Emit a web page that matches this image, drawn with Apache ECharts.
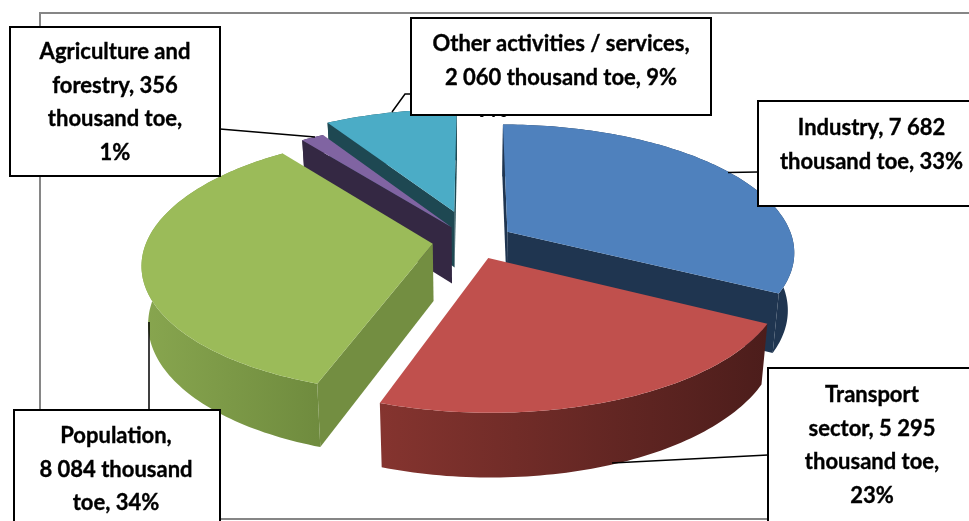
<!DOCTYPE html>
<html>
<head>
<meta charset="utf-8">
<style>html,body{margin:0;padding:0;background:#fff;overflow:hidden}#chart{width:969px;height:521px}</style>
<script src="https://cdn.jsdelivr.net/npm/echarts@6/dist/echarts.min.js"></script>
</head>
<body>
<div id="chart"></div>
<script>
// Final energy consumption by sector, thousand toe
const sectors = ['Industry', 'Transport sector', 'Population', 'Agriculture and forestry', 'Other activities / services'];
const values = [7682, 5295, 8084, 356, 2060];
const explode = [0.142, 0.142, 0.142, 0.135, 0.25];
const topColors = ['#4F81BD', '#C0504D', '#9BBB59', '#8064A2', '#4BACC6'];
const cutColors = ['#1F3550', '#4E1E1C', '#738E41', '#342843', '#1E4852'];
const wallStops = [
  ['#1F3550', '#1F3550'],
  ['#85342F', '#4C1D1B'],
  ['#88A64F', '#6F8B3E'],
  ['#342843', '#342843'],
  ['#1E4852', '#1E4852']
];
// Painter's order, back to front
const drawOrder = [4, 3, 0, 2, 1];

const calloutLines = [
  ['Industry, 7 682', 'thousand toe, 33%'],
  ['Transport', 'sector, 5 295', 'thousand toe,', '23%'],
  ['Population,', '8 084 thousand', 'toe, 34%'],
  ['Agriculture and', 'forestry, 356', 'thousand toe,', '1%'],
  ['Other activities / services,', '2 060 thousand toe, 9%']
];
// x, y, width, height of each callout box, then its text centre and first line centre
const calloutBoxes = [
  [758, 101, 240, 105, 871.5, 128],
  [768, 368, 240, 180, 872, 395],
  [14, 410, 206, 140, 116, 436],
  [10, 27, 210, 149, 115, 52],
  [411, 18, 300, 97, 561, 44]
];
const leaders = [
  [[728, 172.5], [758, 172]],
  [[612, 463], [768, 455]],
  [[149, 322], [149, 410]],
  [[315, 137], [220, 129]],
  [[392, 112], [405, 94], [411, 94]]
];
const lineStep = 33.6;
// Percentage label left behind the services callout, only its lower edge shows
const hiddenLabel = '9%';

// Perspective projection of the pie plane
const centre = [473, 241];
const radiusX = 286;
const radiusY = 126;
const perspective = 0.15;
const depth = 57;
const total = values.reduce((a, b) => a + b, 0);

function projectTop(X, Y) {
  const s = 1 / (1 - perspective * Y);
  return [centre[0] + radiusX * X * s, centre[1] + radiusY * Y * s];
}
function dropToBase(p) {
  return [centre[0] + (p[0] - centre[0]) * 0.98, centre[1] + (p[1] - centre[1]) * 1.045 + depth];
}
function cross(o, a, b) {
  return (a[0] - o[0]) * (b[1] - o[1]) - (a[1] - o[1]) * (b[0] - o[0]);
}

function sliceAngles(i) {
  let sum = 0;
  for (let k = 0; k < i; k++) sum += values[k];
  return [sum / total * 2 * Math.PI, (sum + values[i]) / total * 2 * Math.PI];
}

function renderSlice(params) {
  const i = drawOrder[params.dataIndex];
  const [a0, a1] = sliceAngles(i);
  const mid = (a0 + a1) / 2;
  const ox = explode[i] * Math.sin(mid);
  const oy = -explode[i] * Math.cos(mid);
  const apex = projectTop(ox, oy);
  const steps = Math.max(4, Math.ceil((a1 - a0) / 0.02));
  const rim = [];
  for (let n = 0; n <= steps; n++) {
    const a = a0 + (a1 - a0) * n / steps;
    rim.push(projectTop(ox + Math.sin(a), oy - Math.cos(a)));
  }
  const rimBase = rim.map(dropToBase);
  const apexBase = dropToBase(apex);
  const midRim = rim[Math.floor(steps / 2)];
  const children = [];

  children.push({
    type: 'polygon',
    shape: { points: rim.concat(rimBase.slice().reverse()) },
    style: {
      fill: new echarts.graphic.LinearGradient(0, 0, 1, 0, [
        { offset: 0, color: wallStops[i][0] },
        { offset: 1, color: wallStops[i][1] }
      ])
    }
  });

  [[rim[0], rimBase[0]], [rim[steps], rimBase[steps]]].forEach(([p, pb]) => {
    // A cut face shows only when it falls outside the slice's own top face
    if (cross(apex, p, apexBase) * cross(apex, p, midRim) < 0) {
      children.push({
        type: 'polygon',
        shape: { points: [apex, p, pb, apexBase] },
        style: { fill: cutColors[i] }
      });
    }
  });

  children.push({
    type: 'polygon',
    shape: { points: [apex].concat(rim) },
    style: { fill: topColors[i] }
  });
  return { type: 'group', children };
}

const labelFont = 'bold 22px Lato';

function renderCallout(params) {
  const i = params.dataIndex;
  const [x, y, w, h, tx, ty] = calloutBoxes[i];
  const children = [
    { type: 'polyline', shape: { points: leaders[i] }, style: { fill: 'none', stroke: '#000', lineWidth: 1.5 } },
    { type: 'rect', shape: { x, y, width: w, height: h }, style: { fill: '#fff', stroke: '#000', lineWidth: 2 } }
  ];
  calloutLines[i].forEach((line, n) => {
    children.push({
      type: 'text',
      style: {
        x: tx, y: ty + n * lineStep, text: line, fill: '#000',
        stroke: '#000', lineWidth: 0.35,
        font: labelFont, textAlign: 'center', textVerticalAlign: 'middle'
      }
    });
  });
  return { type: 'group', children };
}

const chart = echarts.init(document.getElementById('chart'), null, { renderer: 'canvas' });
chart.setOption({
  animation: false,
  backgroundColor: '#fff',
  graphic: [
    {
      type: 'rect', z: 0, silent: true,
      shape: { x: 40, y: 13, width: 1000, height: 506 },
      style: { fill: 'none', stroke: '#868686', lineWidth: 2 }
    }
  ],
  series: [
    {
      type: 'custom', z: 2, silent: true,
      coordinateSystem: 'none',
      data: drawOrder.map(i => values[i]),
      renderItem: renderSlice
    },
    {
      type: 'custom', z: 3, silent: true,
      coordinateSystem: 'none',
      data: [values[4]],
      renderItem: () => ({
        type: 'text',
        style: { x: 493, y: 110, text: hiddenLabel, fill: '#000', font: labelFont, textAlign: 'center', textVerticalAlign: 'middle' }
      })
    },
    {
      type: 'custom', z: 4, silent: true,
      coordinateSystem: 'none',
      data: values,
      renderItem: renderCallout
    }
  ]
});
</script>
</body>
</html>
